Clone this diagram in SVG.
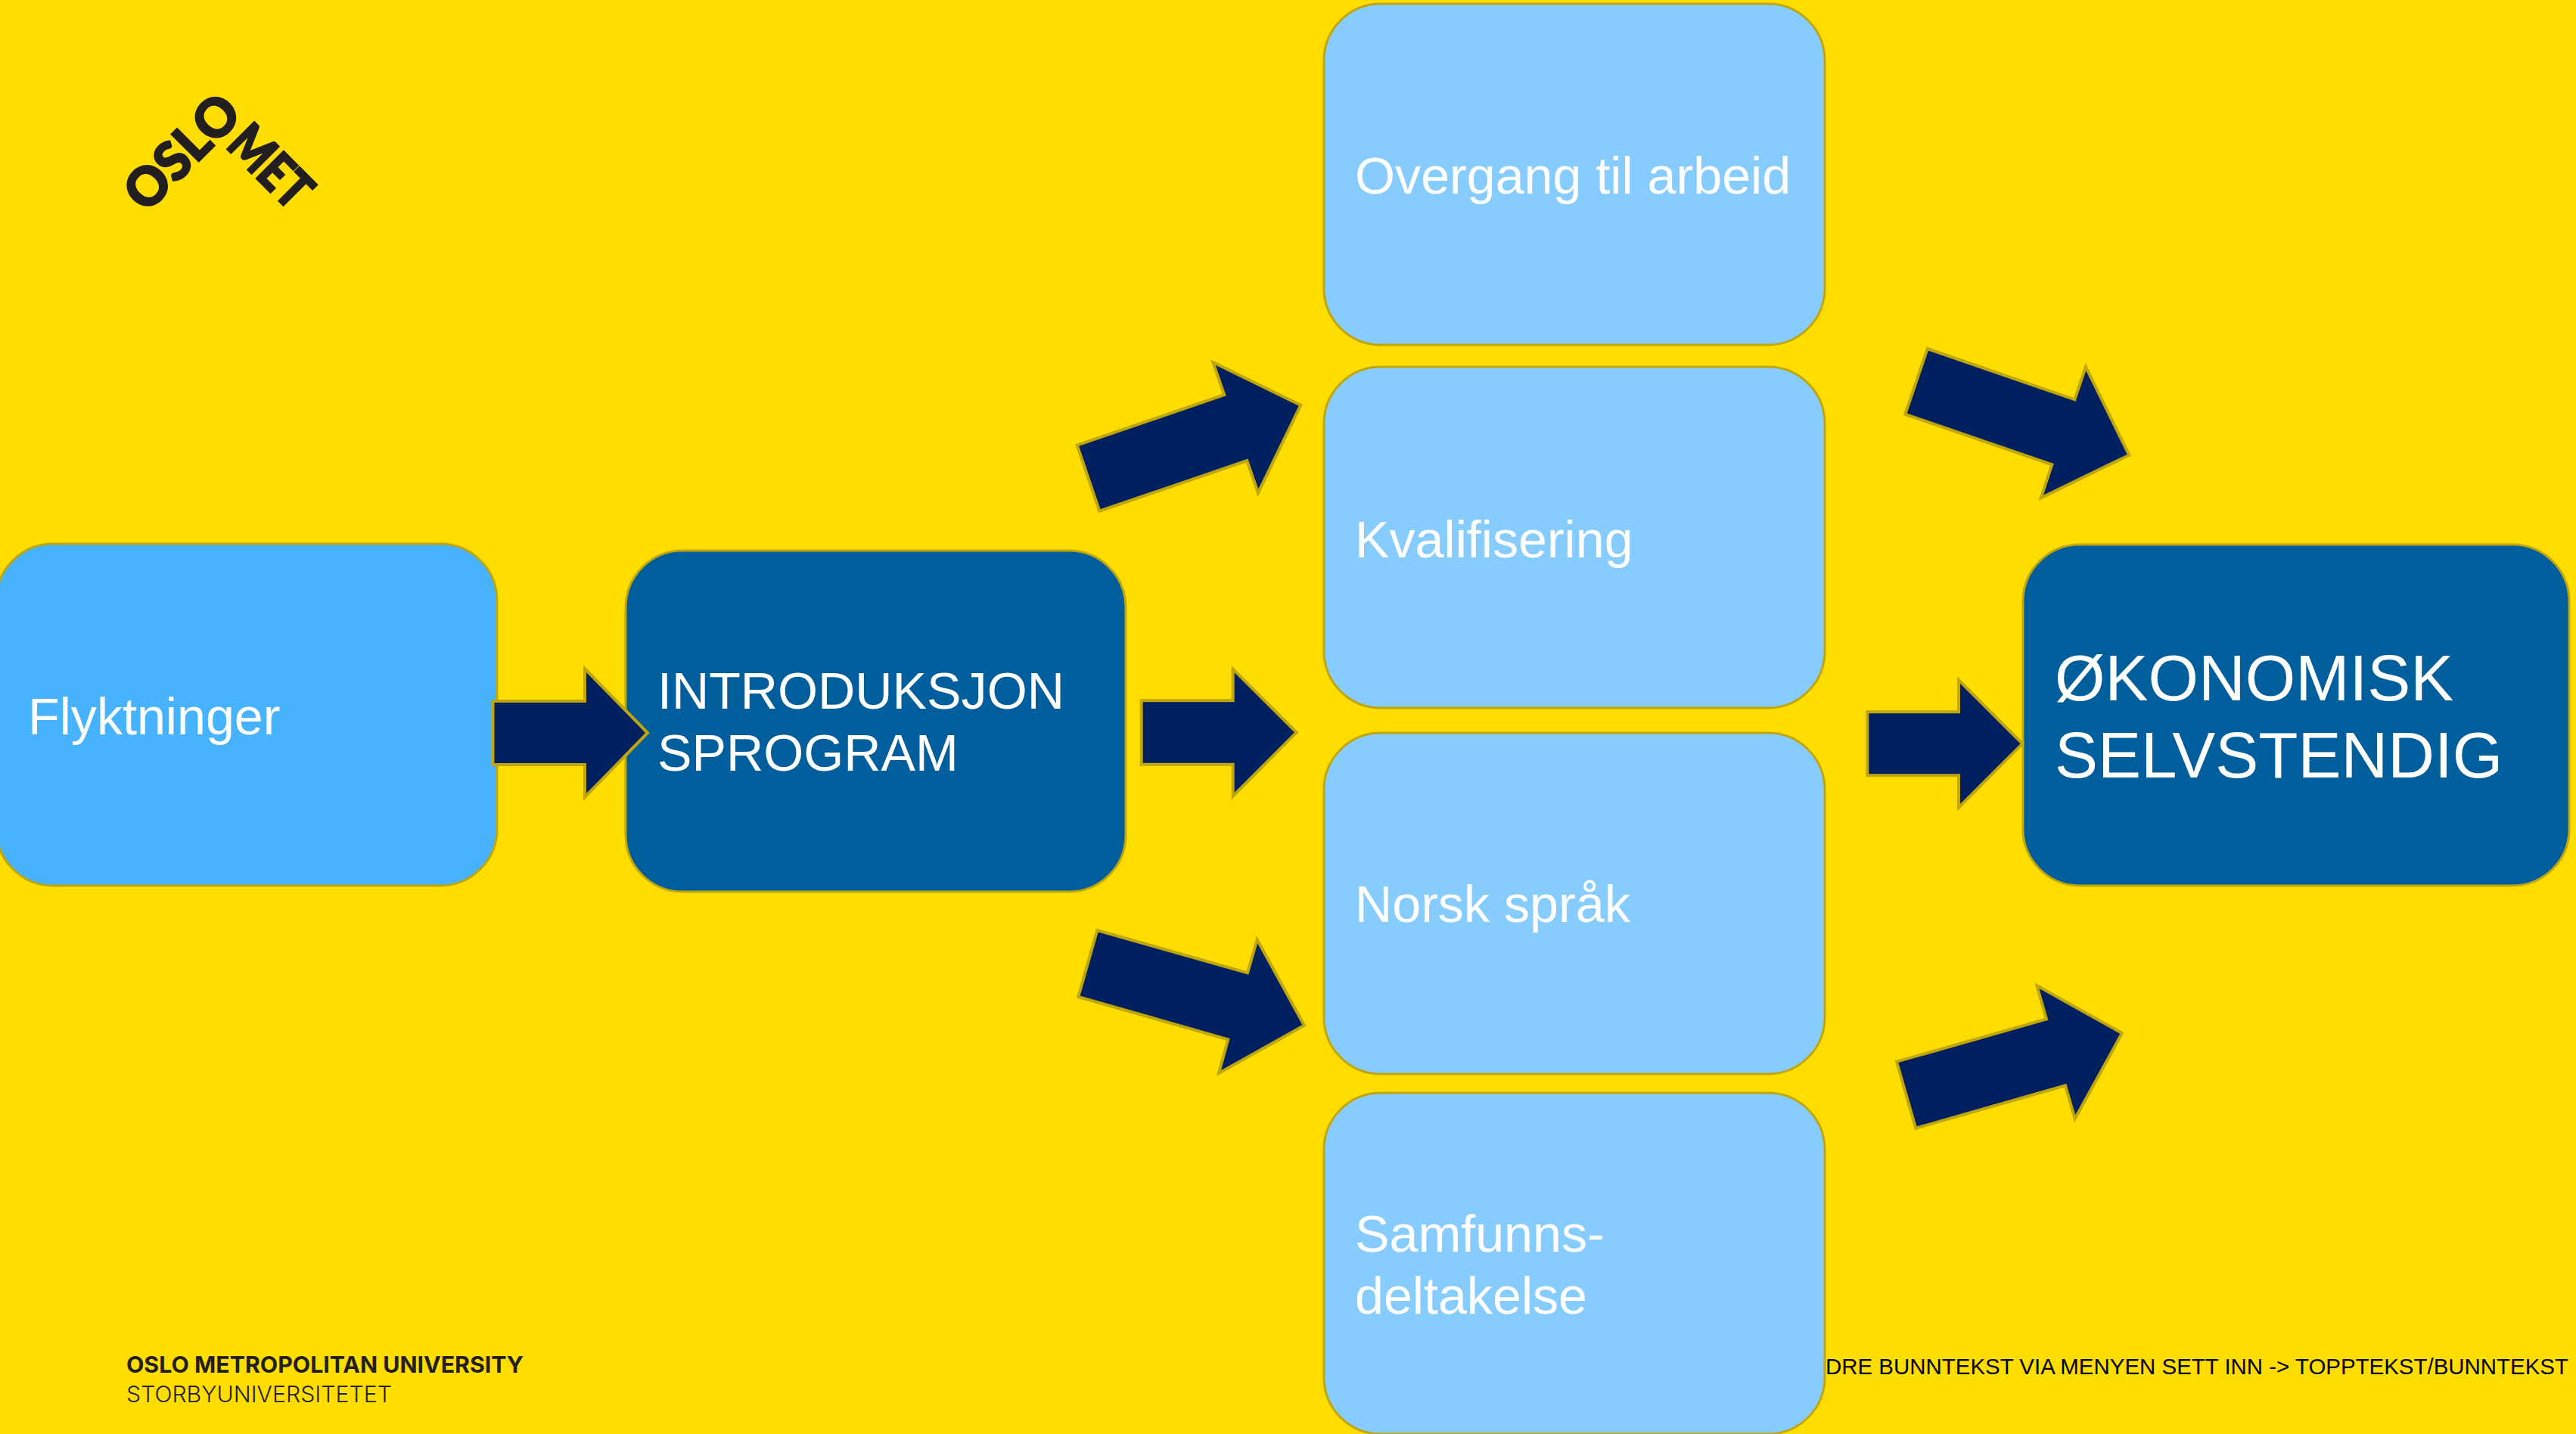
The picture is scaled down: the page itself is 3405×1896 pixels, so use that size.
<svg xmlns="http://www.w3.org/2000/svg" width="3405" height="1896" viewBox="0 0 3405 1896">
<style>
.box{stroke:#BFA60A;stroke-width:3}
.mid{fill:#47B3FF}
.light{fill:#87CCFF}
.dark{fill:#005E9C}
.arrow{fill:#00205F;stroke:#BFA60A;stroke-width:4;stroke-linejoin:miter}
.t{font-family:"Liberation Sans",Arial,sans-serif;fill:#fff;font-size:68.2px}
.big{font-size:85.5px}
.logo{font-family:Lato,"Liberation Sans",sans-serif;font-weight:900;font-size:70px;fill:#231F20;stroke:#231F20;stroke-width:2.5}
.sig{font-family:Inter,"Liberation Sans",sans-serif;font-size:30px;fill:#231F20}
</style>
<rect width="3405" height="1896" fill="#FFDD00"/>
<g id="logo">
<text class="logo" transform="translate(193 283) rotate(-45)" textLength="183" lengthAdjust="spacingAndGlyphs">OSLO</text>
<text class="logo" transform="translate(297 194) rotate(45)" textLength="123" lengthAdjust="spacingAndGlyphs">MET</text>
</g>
<g id="signature">
<text class="sig" x="167" y="1815" font-weight="700" textLength="525" lengthAdjust="spacingAndGlyphs">OSLO METROPOLITAN UNIVERSITY</text>
<text class="sig" x="167" y="1854" font-weight="300" textLength="351" lengthAdjust="spacingAndGlyphs">STORBYUNIVERSITETET</text>
</g>
<g id="footer">
<text x="2413" y="1817" font-family="Liberation Sans, Arial, sans-serif" font-size="29.6" fill="#000" textLength="982" lengthAdjust="spacingAndGlyphs">DRE BUNNTEKST VIA MENYEN SETT INN -&gt; TOPPTEKST/BUNNTEKST</text>
</g>
<g id="node-flyktninger">
<rect class="box mid" x="-5" y="719" width="662" height="452" rx="75"/>
<text class="t" x="37" y="971">Flyktninger</text>
</g>
<g id="node-introduksjonsprogram">
<rect class="box dark" x="827" y="728" width="661" height="451" rx="75"/>
<text class="t" x="869" y="937">INTRODUKSJON</text>
<text class="t" x="869" y="1019">SPROGRAM</text>
</g>
<g id="node-overgang">
<rect class="box light" x="1750" y="5" width="662" height="451" rx="75"/>
<text class="t" x="1791" y="256">Overgang til arbeid</text>
</g>
<g id="node-kvalifisering">
<rect class="box light" x="1750" y="485" width="662" height="451" rx="75"/>
<text class="t" x="1791" y="737">Kvalifisering</text>
</g>
<g id="node-norsk">
<rect class="box light" x="1750" y="969" width="662" height="451" rx="75"/>
<text class="t" x="1791" y="1219">Norsk språk</text>
</g>
<g id="node-samfunn">
<rect class="box light" x="1750" y="1445" width="662" height="451" rx="75"/>
<text class="t" x="1791" y="1655">Samfunns-</text>
<text class="t" x="1791" y="1737">deltakelse</text>
</g>
<g id="node-okonomisk">
<rect class="box dark" x="2674" y="720" width="722" height="451" rx="75"/>
<text class="t big" x="2716" y="926">ØKONOMISK</text>
<text class="t big" x="2716" y="1028">SELVSTENDIG</text>
</g>
<g id="connectors">
<polygon class="arrow" points="651.5,927 773,927 773,884 856,969 773,1054 773,1011 651.5,1011"/>
<polygon class="arrow" points="1423.7,588.7 1618.3,522 1603.3,479 1719.3,535.7 1663,651.7 1648.3,609 1453.3,675.7"/>
<polygon class="arrow" points="1508.7,926.3 1629.7,926.3 1629.7,884.7 1713.7,968.3 1629.7,1052.7 1629.7,1010.7 1508.7,1010.7"/>
<polygon class="arrow" points="1450.3,1230 1649,1286.3 1661.7,1242.3 1724,1355.7 1611,1419 1623.3,1374.3 1425.3,1318"/>
<polygon class="arrow" points="2547.7,461 2742.3,528.3 2757,485 2814.3,601.7 2697.7,658.3 2712.3,614.3 2518.3,547.7"/>
<polygon class="arrow" points="2468.3,941.3 2589,941.3 2589,899 2673.3,983.3 2589,1067.7 2589,1025.3 2468.3,1025.3"/>
<polygon class="arrow" points="2507,1403.7 2705,1347.3 2692.3,1303 2805,1366 2742.7,1479.3 2730,1435.3 2532.3,1491.7"/>
</g>
</svg>
